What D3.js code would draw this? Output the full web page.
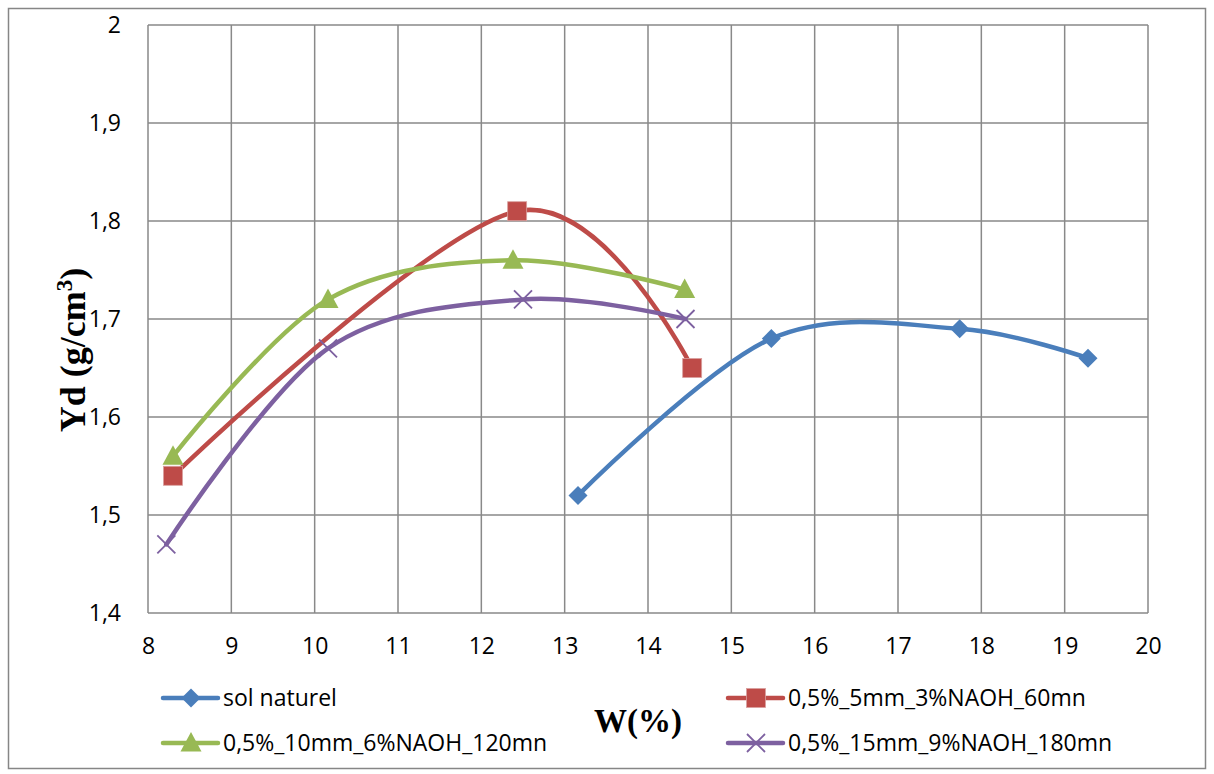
<!DOCTYPE html>
<html>
<head>
<meta charset="utf-8">
<script src="https://cdn.jsdelivr.net/npm/d3@7"></script>
<style>
  body { margin: 0; background: #fff; }
  svg { display: block; }
  .tick-label { font-family: "Open Sans", "Noto Sans", sans-serif; font-size: 23px; fill: #000; }
  .legend-label { font-family: "Open Sans", "Noto Sans", sans-serif; font-size: 23px; fill: #000; }
  .axis-title { font-family: "Liberation Serif", "DejaVu Serif", serif; font-weight: bold; fill: #000; }
</style>
</head>
<body>
<div id="chart"></div>
<script>
// frame constants
const FRAME_WIDTH = 1214;
const FRAME_HEIGHT = 774;
const MARGINS = {left: 148, right: 66, top: 25, bottom: 161};

const VIS_WIDTH = FRAME_WIDTH - MARGINS.left - MARGINS.right;
const VIS_HEIGHT = FRAME_HEIGHT - MARGINS.top - MARGINS.bottom;

// data
const SERIES_NAMES = ["sol naturel", "0,5%_5mm_3%NAOH_60mn",
                      "0,5%_10mm_6%NAOH_120mn", "0,5%_15mm_9%NAOH_180mn"];
const SOL_W = [13.16, 15.48, 17.74, 19.28];
const SOL_YD = [1.52, 1.68, 1.69, 1.66];
const S5_W = [8.3, 12.43, 14.53];
const S5_YD = [1.54, 1.81, 1.65];
const S10_W = [8.3, 10.16, 12.38, 14.44];
const S10_YD = [1.56, 1.72, 1.76, 1.73];
const S15_W = [8.22, 10.16, 12.5, 14.45];
const S15_YD = [1.47, 1.67, 1.72, 1.70];

const X_TICKS = [8, 9, 10, 11, 12, 13, 14, 15, 16, 17, 18, 19, 20];
const Y_TICKS = [1.4, 1.5, 1.6, 1.7, 1.8, 1.9, 2];

const COLORS = ["#4a7ebb", "#be4b48", "#98b954", "#7d60a0"];
const MARKERS = ["diamond", "square", "triangle", "cross"];

const series = [
  {w: SOL_W, yd: SOL_YD},
  {w: S5_W, yd: S5_YD},
  {w: S10_W, yd: S10_YD},
  {w: S15_W, yd: S15_YD}
].map((s, i) => ({
  name: SERIES_NAMES[i],
  color: COLORS[i],
  marker: MARKERS[i],
  points: s.w.map((w, j) => ({x: w, y: s.yd[j]}))
}));

const svg = d3.select("#chart")
  .append("svg")
    .attr("width", FRAME_WIDTH)
    .attr("height", FRAME_HEIGHT);

// outer chart border
svg.append("rect")
  .attr("x", 8.5).attr("y", 8.5)
  .attr("width", 1197).attr("height", 760)
  .attr("fill", "none")
  .attr("stroke", "#868686")
  .attr("stroke-width", 1.5);

const X_SCALE = d3.scaleLinear().domain([8, 20]).range([MARGINS.left, MARGINS.left + VIS_WIDTH]);
const Y_SCALE = d3.scaleLinear().domain([1.4, 2]).range([MARGINS.top + VIS_HEIGHT, MARGINS.top]);

// gridlines
const grid = svg.append("g").attr("stroke", "#898989").attr("stroke-width", 1.5);
grid.selectAll(".vgrid")
  .data(X_TICKS)
  .enter()
  .append("line")
    .attr("x1", d => X_SCALE(d)).attr("x2", d => X_SCALE(d))
    .attr("y1", Y_SCALE(2)).attr("y2", Y_SCALE(1.4));
grid.selectAll(".hgrid")
  .data(Y_TICKS)
  .enter()
  .append("line")
    .attr("x1", X_SCALE(8)).attr("x2", X_SCALE(20))
    .attr("y1", d => Y_SCALE(d)).attr("y2", d => Y_SCALE(d));

// axes (labels only, Excel style)
const fmt = d => String(d).replace(".", ",");

const xAxis = svg.append("g")
  .attr("transform", `translate(0, ${Y_SCALE(1.4)})`)
  .call(d3.axisBottom(X_SCALE).tickValues(X_TICKS).tickFormat(fmt).tickSize(0).tickPadding(25));
xAxis.select(".domain").remove();
xAxis.selectAll("text").attr("class", "tick-label").attr("font-family", null).attr("font-size", null);

const yAxis = svg.append("g")
  .attr("transform", `translate(${X_SCALE(8)}, 0)`)
  .call(d3.axisLeft(Y_SCALE).tickValues(Y_TICKS).tickFormat(fmt).tickSize(0).tickPadding(27));
yAxis.select(".domain").remove();
yAxis.selectAll("text").attr("class", "tick-label").attr("font-family", null).attr("font-size", null);

// smoothed lines
const line = d3.line()
  .x(d => X_SCALE(d.x))
  .y(d => Y_SCALE(d.y))
  .curve(d3.curveCardinal.tension(0));

svg.selectAll(".series-line")
  .data(series)
  .enter()
  .append("path")
    .attr("d", d => line(d.points))
    .attr("fill", "none")
    .attr("stroke", d => d.color)
    .attr("stroke-width", 4.5)
    .attr("stroke-linecap", "round");

// marker drawing
function drawMarker(g, type, color) {
  if (type === "diamond") {
    g.append("path").attr("d", "M0,-9.5L9.5,0L0,9.5L-9.5,0Z").attr("fill", color);
  } else if (type === "square") {
    g.append("rect").attr("x", -9.5).attr("y", -9.5).attr("width", 19).attr("height", 19)
      .attr("fill", color).attr("stroke", "#d9a09e").attr("stroke-width", 0.8);
  } else if (type === "triangle") {
    g.append("path").attr("d", "M0,-11L10.5,8.5L-10.5,8.5Z").attr("fill", color);
  } else {
    g.append("path").attr("d", "M-9,-9L9,9M-9,9L9,-9")
      .attr("stroke", color).attr("stroke-width", 1.8).attr("fill", "none");
  }
}

series.forEach(s => {
  svg.selectAll(null)
    .data(s.points)
    .enter()
    .append("g")
      .attr("transform", d => `translate(${X_SCALE(d.x)}, ${Y_SCALE(d.y)})`)
      .each(function () { drawMarker(d3.select(this), s.marker, s.color); });
});

// axis titles
svg.append("text")
  .attr("class", "axis-title")
  .attr("x", 638).attr("y", 732)
  .attr("text-anchor", "middle")
  .attr("font-size", 33)
  .text("W(%)");

const yTitle = svg.append("text")
  .attr("class", "axis-title")
  .attr("transform", "translate(85, 350) rotate(-90)")
  .attr("text-anchor", "middle")
  .attr("font-size", 36);
yTitle.append("tspan").text("Yd (g/cm");
yTitle.append("tspan").attr("dy", -13).attr("font-size", 23).text("3");
yTitle.append("tspan").attr("dy", 13).text(")");

// legend
const LEGEND_POS = [[163, 698], [728, 698], [163, 743], [728, 743]];
series.forEach((s, i) => {
  const [lx, ly] = LEGEND_POS[i];
  const g = svg.append("g").attr("transform", `translate(${lx}, ${ly})`);
  g.append("line")
    .attr("x1", 0).attr("x2", 55).attr("y1", 0).attr("y2", 0)
    .attr("stroke", s.color).attr("stroke-width", 4.5).attr("stroke-linecap", "round");
  const m = g.append("g").attr("transform", "translate(28, 0)");
  drawMarker(m, s.marker, s.color);
  g.append("text")
    .attr("class", "legend-label")
    .attr("x", 60).attr("y", 8)
    .text(s.name);
});
</script>
</body>
</html>
